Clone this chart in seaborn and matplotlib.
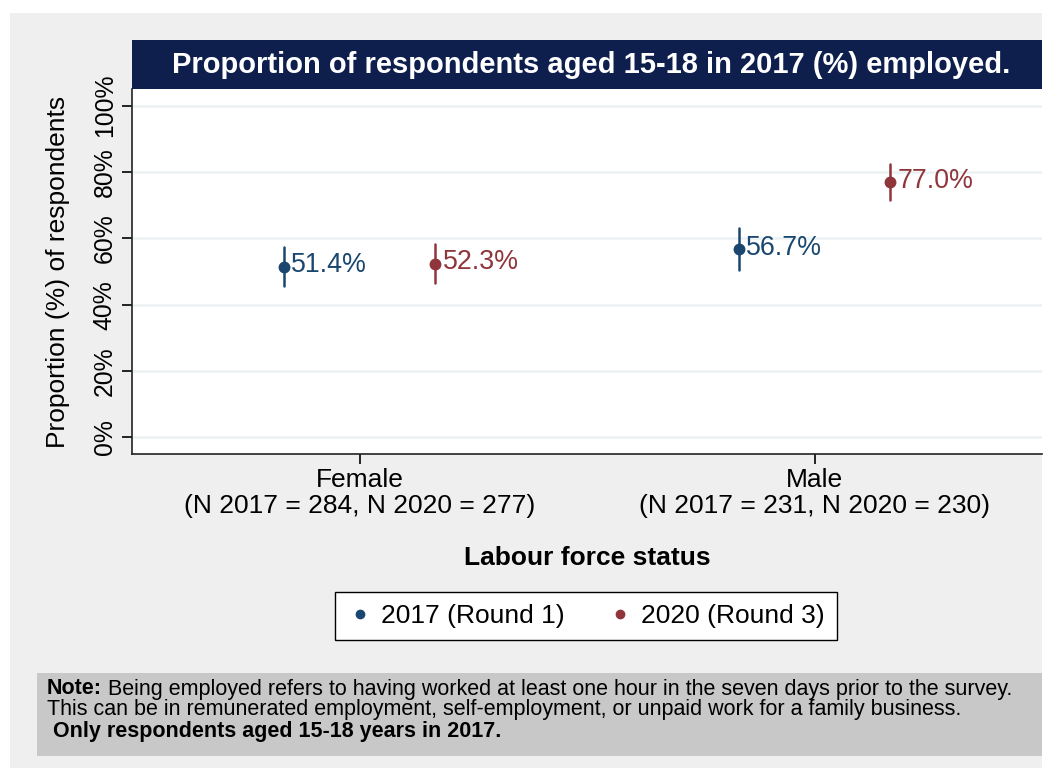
import numpy as np
import pandas as pd
import seaborn as sns
import matplotlib
matplotlib.use('Agg')
import matplotlib.pyplot as plt
from matplotlib.patches import Rectangle
from matplotlib.lines import Line2D

# Data
groups = ["Female\n(N 2017 = 284, N 2020 = 277)", "Male\n(N 2017 = 231, N 2020 = 230)"]
years = ["2017 (Round 1)", "2020 (Round 3)"]
est_2017 = [51.4, 56.7]
est_2020 = [52.3, 77.0]
lo_2017 = [45.6, 50.5]
hi_2017 = [57.4, 63.1]
lo_2020 = [46.5, 71.5]
hi_2020 = [58.3, 82.3]

navy = "#1a476f"
maroon = "#90353b"
colors = [navy, maroon]

# long table: lower bound, estimate, upper bound per point
rows = []
for yr, est, lo, hi in [(years[0], est_2017, lo_2017, hi_2017),
                        (years[1], est_2020, lo_2020, hi_2020)]:
    for g, e, l, h in zip(groups, est, lo, hi):
        for v in (l, e, h):
            rows.append({"group": g, "year": yr, "value": v})
df = pd.DataFrame(rows)

sns.set_style("white")
plt.rcParams['font.family'] = ['Liberation Sans', 'DejaVu Sans']
for k in ['text.color', 'axes.labelcolor', 'xtick.color', 'ytick.color']:
    plt.rcParams[k] = 'black'

W, H = 1050, 771
fig = plt.figure(figsize=(10.5, 7.71), dpi=100, facecolor="white")

# grey graph region
fig.add_artist(Rectangle((10 / W, 1 - 768 / H), 1032 / W, 755 / H,
                         transform=fig.transFigure, facecolor="#efefef",
                         edgecolor="none", zorder=-10))

ax = fig.add_axes([132 / W, 1 - 454 / H, 910 / W, 365 / H])
ax.set_facecolor("white")

dodge = 0.333
sns.pointplot(data=df, x="group", y="value", hue="year", order=groups,
              hue_order=years, palette=colors, estimator="median",
              errorbar=("pi", 100), dodge=dodge, linestyle="none",
              markers="o", markersize=6.5, err_kws={"linewidth": 1.8},
              legend=False, ax=ax)

# value labels
for i, (yr, est) in enumerate([(years[0], est_2017), (years[1], est_2020)]):
    off = -dodge / 2 + dodge * i
    for j, v in enumerate(est):
        ax.annotate(f"{v:.1f}%", xy=(j + off, v), xytext=(5.5, 1),
                    textcoords="offset points", va="center", ha="left",
                    fontsize=19.3, color=colors[i])

ax.set_ylim(-5, 105)
ax.set_xlim(-0.5, 1.5)
ticks = [0, 20, 40, 60, 80, 100]
ax.set_yticks(ticks)
ax.set_yticklabels([f"{t}%" for t in ticks], rotation=90, va="center", fontsize=17.8)
ax.yaxis.grid(True, color="#eaf2f3", linewidth=1.8)
ax.set_axisbelow(True)
ax.tick_params(axis="y", direction="out", length=7, width=1.2, pad=4, left=True)
ax.tick_params(axis="x", direction="out", length=7, width=1.2, pad=3,
               labelsize=19, bottom=True)
for lbl in ax.get_xticklabels():
    lbl.set_multialignment("center")
    lbl.set_linespacing(1.1)

for s in ["top", "right"]:
    ax.spines[s].set_visible(False)
for s in ["left", "bottom"]:
    ax.spines[s].set_color("#222222")
    ax.spines[s].set_linewidth(1.2)

ax.set_ylabel("Proportion (%) of respondents", fontsize=19, labelpad=16)
ax.set_xlabel("Labour force status", fontsize=19, fontweight="bold", labelpad=20)

# title band
fig.add_artist(Rectangle((132 / W, 1 - 89 / H), 910 / W, 49 / H,
                         transform=fig.transFigure, facecolor="#0e1f4e",
                         edgecolor="none"))
fig.text(591 / W, 1 - 65 / H, "Proportion of respondents aged 15-18 in 2017 (%) employed.",
         ha="center", va="center", color="white", fontsize=21, fontweight="bold")

# legend
handles = [Line2D([], [], marker="o", linestyle="none", color=c, markersize=6) for c in colors]
fig.legend(handles, years, loc="center", bbox_to_anchor=(586 / W, 1 - 616 / H),
           ncol=2, fontsize=19, frameon=True, fancybox=False, edgecolor="black",
           facecolor="white", framealpha=1, handletextpad=0.3, columnspacing=1.6,
           borderpad=0.45, handlelength=1.0)

# note box
fig.add_artist(Rectangle((37 / W, 1 - 756 / H), 1005 / W, 83 / H,
                         transform=fig.transFigure, facecolor="#c8c8c8",
                         edgecolor="none"))
note_lbl = fig.text(47 / W, 1 - 689 / H, "Note:", ha="left", va="center",
                    fontsize=15.5, fontweight="bold")
renderer = fig.canvas.get_renderer()
bb = note_lbl.get_window_extent(renderer=renderer)
fig.text(bb.x1 / W, 1 - 689 / H,
         " Being employed refers to having worked at least one hour in the seven days prior to the survey.",
         ha="left", va="center", fontsize=15.5)
fig.text(47 / W, 1 - 710 / H,
         "This can be in remunerated employment, self-employment, or unpaid work for a family business.",
         ha="left", va="center", fontsize=15.5)
fig.text(47 / W, 1 - 731 / H, " Only respondents aged 15-18 years in 2017.",
         ha="left", va="center", fontsize=15.5, fontweight="bold")

fig.savefig("out.png", dpi=100)
